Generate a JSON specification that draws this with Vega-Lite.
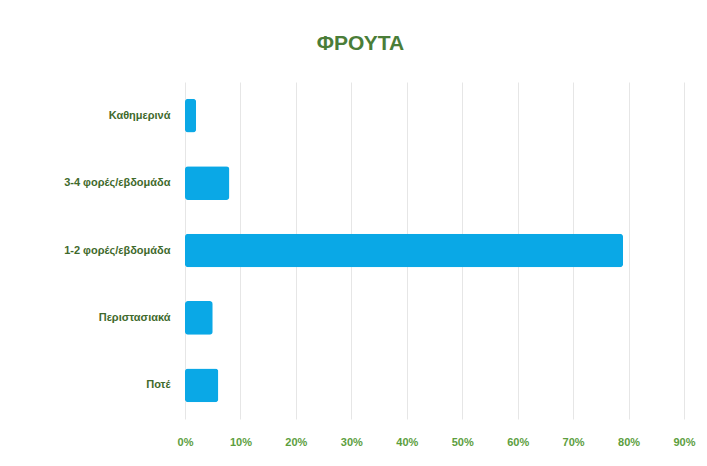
{
  "$schema": "https://vega.github.io/schema/vega-lite/v6.json",
  "autosize": "none",
  "width": 499,
  "height": 337,
  "padding": {"left": 185, "top": 82, "right": 23, "bottom": 47},
  "background": "white",
  "title": {
    "text": "ΦΡΟΥΤΑ",
    "font": "Liberation Sans Narrow, Liberation Sans",
    "fontSize": 21,
    "fontWeight": "bold",
    "color": "#4a7d38",
    "anchor": "middle",
    "dx": -74,
    "offset": 28
  },
  "data": {
    "values": [
      {"category": "Καθημερινά", "value": 0.02},
      {"category": "3-4 φορές/εβδομάδα", "value": 0.08},
      {"category": "1-2 φορές/εβδομάδα", "value": 0.79},
      {"category": "Περιστασιακά", "value": 0.05},
      {"category": "Ποτέ", "value": 0.06}
    ]
  },
  "mark": {"type": "bar", "color": "#0aa8e6", "cornerRadius": 3},
  "encoding": {
    "y": {
      "field": "category",
      "type": "nominal",
      "sort": null,
      "title": null,
      "scale": {"paddingInner": 0.5, "paddingOuter": 0.25},
      "axis": {
        "domain": false,
        "ticks": false,
        "labelPadding": 15,
        "labelFont": "Liberation Sans Narrow, Liberation Sans",
        "labelFontSize": 11,
        "labelFontWeight": "bold",
        "labelColor": "#3f6a2c"
      }
    },
    "x": {
      "field": "value",
      "type": "quantitative",
      "title": null,
      "scale": {"domain": [0, 0.9], "nice": false},
      "axis": {
        "format": ".0%",
        "values": [0, 0.1, 0.2, 0.3, 0.4, 0.5, 0.6, 0.7, 0.8, 0.9],
        "domain": false,
        "ticks": false,
        "labelFlush": false,
        "labelPadding": 17,
        "labelFont": "Liberation Sans Narrow, Liberation Sans",
        "labelFontSize": 11,
        "labelFontWeight": "bold",
        "labelColor": "#5c9e3e",
        "gridColor": "#e6e6e6",
        "gridWidth": 1
      }
    }
  },
  "config": {"view": {"stroke": null}}
}
